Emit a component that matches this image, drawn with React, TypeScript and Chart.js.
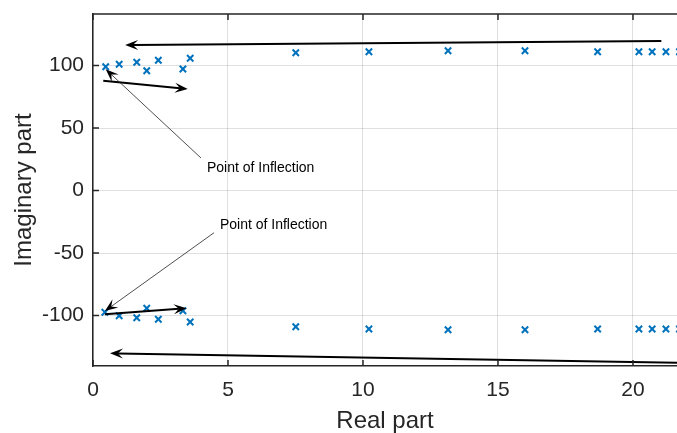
import React, { useEffect, useRef } from "react";
import { Chart, registerables } from "chart.js";
Chart.register(...registerables);

// Poles: real part / imaginary part
const realUpper = [0.47, 0.97, 1.62, 1.99, 2.42, 3.33, 3.6, 7.51, 10.22, 13.15, 16.0, 18.69, 20.22, 20.71, 21.22, 21.72];
const imagUpper = [99.0, 101.0, 102.6, 95.8, 104.2, 97.2, 105.8, 110.2, 111.0, 111.8, 111.8, 111.0, 111.0, 111.0, 111.0, 111.0];
const realLower = [0.44, 0.97, 1.62, 1.99, 2.42, 3.33, 3.6, 7.51, 10.22, 13.15, 16.0, 18.69, 20.22, 20.71, 21.22, 21.72];
const imagLower = [-97.4, -100.2, -101.8, -94.2, -103.0, -96.2, -105.2, -109.0, -110.8, -111.4, -111.4, -110.8, -110.8, -110.8, -110.8, -110.8];

const xTicks = [0, 5, 10, 15, 20];
const yTicks = [-100, -50, 0, 50, 100];
const xRange = [0, 21.63];
const yRange = [-140.4, 141.2];

// Thick arrows: [x1, y1, x2, y2] (head at x2,y2)
const arrowTop = [21.05, 119.6, 1.19, 116.4];
const arrowUpperShort = [0.38, 87.8, 3.51, 81.2];
const arrowLowerShort = [0.44, -99.0, 3.47, -94.2];
const arrowBottom = [22.6, -138.2, 0.63, -130.2];
// Thin annotation arrows (text arrows)
const inflectUpper = [4.0, 26.0, 0.47, 97.0];
const inflectLower = [4.48, -33.8, 0.44, -96.4];
const labelText = ["Point of Inflection", "Point of Inflection"];
const labelX = [4.22, 4.7];
const labelY = [18.0, -27.6];

const FONT = "'Liberation Sans', Arial, Helvetica, sans-serif";
const AXIS = "#262626";

function drawArrow(ctx: CanvasRenderingContext2D, x1: number, y1: number, x2: number, y2: number, lw: number, color: string) {
  const dx = x2 - x1, dy = y2 - y1;
  const len = Math.hypot(dx, dy);
  const ux = dx / len, uy = dy / len;
  const px = -uy, py = ux;
  const L = 13, W = 10, notch = 0.6;
  ctx.save();
  ctx.strokeStyle = color;
  ctx.lineWidth = lw;
  ctx.beginPath();
  ctx.moveTo(x1, y1);
  ctx.lineTo(x2 - ux * L * notch, y2 - uy * L * notch);
  ctx.stroke();
  ctx.fillStyle = "#000";
  ctx.beginPath();
  ctx.moveTo(x2, y2);
  ctx.lineTo(x2 - ux * L + px * W / 2, y2 - uy * L + py * W / 2);
  ctx.lineTo(x2 - ux * L * notch, y2 - uy * L * notch);
  ctx.lineTo(x2 - ux * L - px * W / 2, y2 - uy * L - py * W / 2);
  ctx.closePath();
  ctx.fill();
  ctx.restore();
}

const annotationPlugin = {
  id: "annotations",
  afterDatasetsDraw(chart: any) {
    const ctx: CanvasRenderingContext2D = chart.ctx;
    const xs = chart.scales.x, ys = chart.scales.y;
    const P = (a: number[]) => [xs.getPixelForValue(a[0]), ys.getPixelForValue(a[1]), xs.getPixelForValue(a[2]), ys.getPixelForValue(a[3])];
    for (const a of [arrowTop, arrowUpperShort, arrowLowerShort, arrowBottom]) {
      const [x1, y1, x2, y2] = P(a);
      drawArrow(ctx, x1, y1, x2, y2, 2, "#000");
    }
    for (const a of [inflectUpper, inflectLower]) {
      const [x1, y1, x2, y2] = P(a);
      drawArrow(ctx, x1, y1, x2, y2, 0.8, "#222");
    }
    ctx.save();
    ctx.fillStyle = "#000";
    ctx.font = `14px ${FONT}`;
    ctx.textAlign = "left";
    ctx.textBaseline = "middle";
    labelText.forEach((t, i) => {
      ctx.fillText(t, xs.getPixelForValue(labelX[i]), ys.getPixelForValue(labelY[i]));
    });
    ctx.restore();
  },
  afterDraw(chart: any) {
    const ctx: CanvasRenderingContext2D = chart.ctx;
    const { left, right, top, bottom } = chart.chartArea;
    const xs = chart.scales.x, ys = chart.scales.y;
    const T = 6;
    ctx.save();
    ctx.strokeStyle = AXIS;
    ctx.lineWidth = 1.5;
    ctx.beginPath();
    ctx.moveTo(left, top);
    ctx.lineTo(right + 5, top);
    for (const v of xTicks) {
      const x = xs.getPixelForValue(v);
      ctx.moveTo(x, bottom);
      ctx.lineTo(x, bottom - T);
      ctx.moveTo(x, top);
      ctx.lineTo(x, top + T);
    }
    for (const v of yTicks) {
      const y = ys.getPixelForValue(v);
      ctx.moveTo(left, y);
      ctx.lineTo(left + T, y);
    }
    ctx.stroke();
    ctx.restore();
  },
};

export default function App() {
  const ref = useRef<HTMLCanvasElement | null>(null);
  useEffect(() => {
    if (!ref.current) return;
    const mk = (xsArr: number[], ysArr: number[]) => xsArr.map((x, i) => ({ x, y: ysArr[i] }));
    const chart = new Chart(ref.current, {
      type: "scatter",
      data: {
        datasets: [
          {
            data: mk(realUpper, imagUpper),
            pointStyle: "crossRot",
            pointRadius: 4.5,
            pointBorderWidth: 2,
            borderColor: "#0072BD",
            backgroundColor: "#0072BD",
            clip: false,
          },
          {
            data: mk(realLower, imagLower),
            pointStyle: "crossRot",
            pointRadius: 4.5,
            pointBorderWidth: 2,
            borderColor: "#0072BD",
            backgroundColor: "#0072BD",
            clip: false,
          },
        ],
      },
      options: {
        animation: false,
        responsive: false,
        events: [],
        layout: { autoPadding: false, padding: { top: 14, right: 0, left: 0, bottom: 0 } },
        plugins: { legend: { display: false }, tooltip: { enabled: false } },
        scales: {
          x: {
            type: "linear",
            min: xRange[0],
            max: xRange[1],
            afterBuildTicks: (s: any) => { s.ticks = xTicks.map((v) => ({ value: v })); },
            afterFit: (s: any) => { s.height = 67; s.paddingLeft = 0; s.paddingRight = 0; s.paddingTop = 0; s.paddingBottom = 0; },
            grid: { color: "rgba(38,38,38,0.15)", lineWidth: 1, drawTicks: false },
            border: { display: true, color: AXIS, width: 1.5 },
            ticks: { color: AXIS, font: { family: FONT, size: 21 }, padding: 12, maxRotation: 0 },
            title: { display: true, text: "Real part", color: AXIS, font: { family: FONT, size: 24, lineHeight: 1 }, padding: { top: 0, bottom: 0 } },
          },
          y: {
            type: "linear",
            min: yRange[0],
            max: yRange[1],
            afterBuildTicks: (s: any) => { s.ticks = yTicks.map((v) => ({ value: v })); },
            afterFit: (s: any) => { s.width = 93; s.paddingLeft = 0; s.paddingRight = 0; s.paddingTop = 0; s.paddingBottom = 0; },
            grid: { color: "rgba(38,38,38,0.15)", lineWidth: 1, drawTicks: false },
            border: { display: true, color: AXIS, width: 1.5 },
            ticks: { color: AXIS, font: { family: FONT, size: 21 }, padding: 9 },
            title: { display: true, text: "Imaginary part", color: AXIS, font: { family: FONT, size: 24, lineHeight: 1 }, padding: { top: 12, bottom: 0 } },
          },
        },
      },
      plugins: [annotationPlugin],
    });
    return () => chart.destroy();
  }, []);
  return (
    <div style={{ position: "fixed", left: 0, top: 0, width: 677, height: 433, background: "#fff" }}>
      <canvas ref={ref} width={677} height={433} style={{ display: "block" }} />
    </div>
  );
}
